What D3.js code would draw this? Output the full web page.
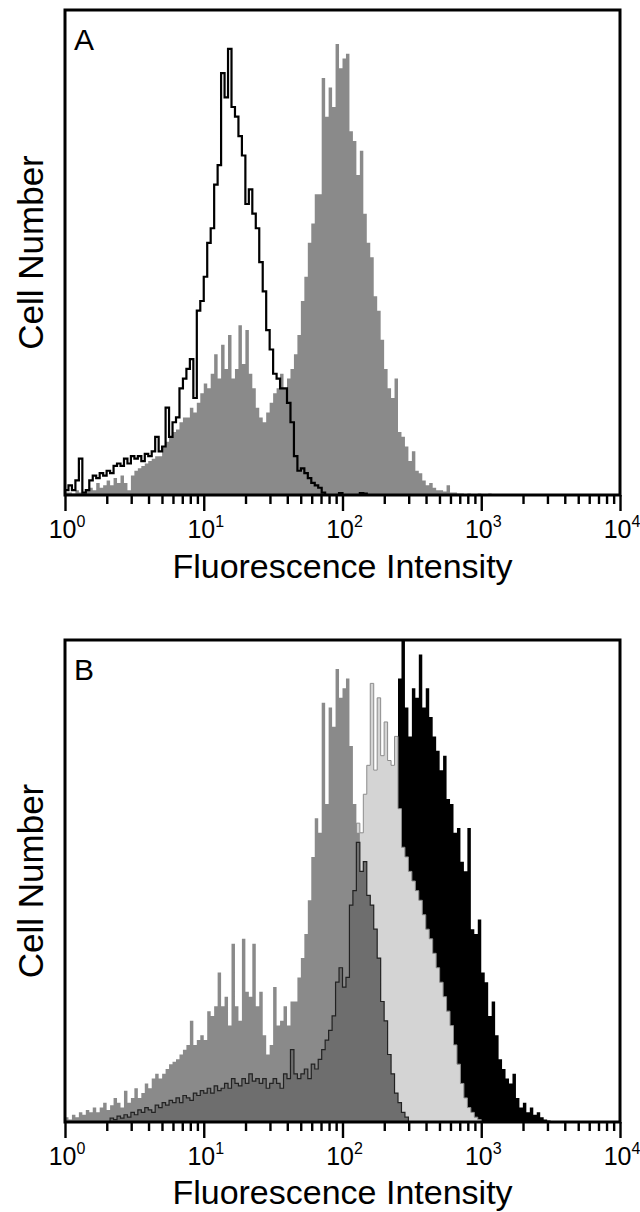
<!DOCTYPE html>
<html>
<head>
<meta charset="utf-8">
<script src="https://cdn.jsdelivr.net/npm/d3@7"></script>
<style>
  body { margin: 0; background: #fff; }
  text { font-family: "Liberation Sans", Arial, Helvetica, sans-serif; fill: #000; }
</style>
</head>
<body>
<script>
// channels are 1/40 decade wide, channel 0 starts at 10^0
const binsPerDecade = 40;
const decadeTicks = [1, 10, 100, 1000, 10000];
const decadeExp = ["0", "1", "2", "3", "4"];
const xTitle = "Fluorescence Intensity";
const yTitle = "Cell Number";

// panel A: open (black outline) histogram, from channel 0
const aOpenStart = 0;
const aOpenCounts = [1, 2, 1, 3, 7.5, 0.5, 1, 3, 4, 3.5,
  4.5, 4, 5, 4.5, 6, 6.5, 6, 7.5, 6.5, 8,
  7.5, 8, 7, 8.5, 8, 9, 12, 9, 10, 18,
  12, 15, 16, 22, 24, 26, 28, 20, 38, 40,
  45, 52, 55, 64, 68, 87, 82, 92, 80, 78,
  74, 70, 60, 63, 58, 55, 48, 42, 34, 30,
  25, 24, 22, 22, 19, 15, 8, 5, 5.5, 4.5,
  3.5, 2.5, 2, 1.5, 0.5, 0, 0, 0, 0, 0.4,
  0, 0, 0, 0, 0, 0.4, 0.3];

// panel A: filled grey histogram
const aFillStart = 0;
const aFillCounts = [0.5, 0.5, 0.3, 1, 0.5, 0.5, 1, 1.5, 1, 2.5,
  1.5, 2, 3, 2, 3.5, 2.5, 4, 2.5, 1, 4,
  5, 5.5, 6, 6.5, 7, 7.5, 8, 8, 10, 11,
  12, 13, 13.5, 15, 16, 16, 18, 17, 19, 21,
  23, 22, 25, 29, 24, 31, 26, 33, 24, 26,
  35, 27, 34, 25, 22, 18, 16, 15, 17, 19,
  21, 22, 25, 22, 24, 26, 29, 33, 40, 45,
  52, 56, 62, 62, 86, 78, 84, 80, 93, 88,
  90, 91, 75, 73, 66, 71, 58, 52, 49, 41,
  38, 32, 26, 22, 20, 24, 13, 12, 10, 7,
  9, 5, 4.5, 3, 2, 2.5, 1.5, 1, 1, 0.7,
  2, 0.5, 0.5, 0.3, 0.3, 0.2, 0.3, 0.2, 0.2, 0.3,
  0.2, 0.2, 0.3, 0.2, 0.2, 0.2];

// panel B: black filled histogram
const bBlackStart = 94;
const bBlackCounts = [40, 60, 92, 101, 86, 80, 90, 88, 97, 86,
  90, 84, 80, 77, 73, 76, 67, 66, 60, 61,
  54, 52, 61, 40, 39, 42, 31, 29, 22, 25,
  18, 13, 11, 9, 8, 10, 5, 3, 4, 2,
  3, 1.5, 2, 1, 0.5, 0.3];

// panel B: light grey histogram
const bLightStart = 83;
const bLightCounts = [40, 62, 60, 68, 74, 91, 73, 88, 76, 83,
  75, 74, 80, 65, 57, 55, 52, 50, 48, 46,
  43, 40, 38, 35, 32, 29, 26, 23, 20, 16,
  12, 8, 5, 3, 2, 1, 0.5];

// panel B: medium grey histogram
const bMidStart = 0;
const bMidCounts = [1, 0.5, 1.5, 1, 2, 1.5, 2.5, 2, 3, 2,
  3, 4, 2.5, 3.5, 5, 4, 3, 6.5, 4, 5,
  7, 5, 6, 8, 7, 9, 10, 9, 10, 11,
  12, 12.5, 13, 14, 15, 16, 21, 16, 17, 18,
  17, 23, 22, 24, 31, 24, 26, 20, 37, 24,
  21, 38, 27, 26, 37, 24, 27, 18, 14, 16,
  28, 20, 21, 24, 20, 25, 25, 30, 34, 39,
  46, 55, 63, 60, 87, 66, 86, 82, 94, 88,
  90, 92, 78, 66, 60, 50, 40, 30, 22, 15,
  10, 6, 4, 2.5, 1.5, 1, 0.5];

// panel B: dark grey histogram (dark outline)
const bDarkStart = 13;
const bDarkCounts = [0.8, 0.5, 1.2, 0.8, 1.5, 1, 2, 1.5, 2.5, 2,
  3, 2.5, 2, 3.5, 3, 4, 3.5, 4.5, 4, 5,
  4, 5.5, 5, 4.5, 6, 5.5, 6.5, 6, 7, 6,
  7.5, 6.5, 7, 8, 7, 9, 8, 7.5, 9, 8,
  10, 8.5, 9, 8, 9, 7, 8, 9, 8, 7,
  10, 9, 15, 10, 9, 10, 11, 9, 12, 11,
  13, 15, 17, 19, 22, 29, 32, 28, 30, 45,
  48, 58, 52, 54, 47, 45, 40, 34, 25, 21,
  14, 10, 6, 4, 2, 1];

const W = 640, H = 1212;
const svg = d3.select("body").append("svg")
  .attr("width", W).attr("height", H);

const x = d3.scaleLog().domain([1, 10000]).range([65, 620]);

function stepPoints(start, counts) {
  let pts = [[Math.pow(10, start / binsPerDecade), 0]];
  counts.forEach((v, k) => pts.push([Math.pow(10, (start + k) / binsPerDecade), v]));
  pts.push([Math.pow(10, (start + counts.length) / binsPerDecade), 0]);
  return pts;
}

function drawPanel(id, top, bottom, letter, titleGap, layers) {
  const y = d3.scaleLinear().domain([0, 100]).range([bottom, top]);
  const g = svg.append("g").attr("id", id);

  g.append("clipPath").attr("id", id + "Clip")
    .append("rect")
    .attr("x", x(1)).attr("y", top)
    .attr("width", x(10000) - x(1)).attr("height", bottom - top);

  const plot = g.append("g").attr("clip-path", `url(#${id}Clip)`);
  const area = d3.area().x(d => x(d[0])).y0(y(0)).y1(d => y(d[1])).curve(d3.curveStepAfter);
  const line = d3.line().x(d => x(d[0])).y(d => y(d[1])).curve(d3.curveStepAfter);

  layers.forEach(l => {
    let pts = stepPoints(l.start, l.counts);
    if (l.fill !== "none") {
      plot.append("path").attr("d", area(pts)).attr("fill", l.fill);
    }
    if (l.stroke) {
      plot.append("path").attr("d", line(pts))
        .attr("fill", "none")
        .attr("stroke", l.stroke)
        .attr("stroke-width", l.width);
    }
  });

  // axis ticks, minor then decades
  let minor = [];
  for (let e = 0; e < 4; e++) for (let m = 2; m < 10; m++) minor.push(m * Math.pow(10, e));
  const minorAxis = d3.axisBottom(x).tickValues(minor).tickSize(9).tickFormat("");
  const majorAxis = d3.axisBottom(x).tickValues(decadeTicks).tickSize(16).tickFormat("");
  [minorAxis, majorAxis].forEach(ax => {
    const a = g.append("g").attr("transform", `translate(0,${bottom})`).call(ax);
    a.select(".domain").remove();
    a.selectAll(".tick line").attr("stroke", "#000").attr("stroke-width", 2.4);
  });

  // frame
  g.append("rect")
    .attr("x", x(1)).attr("y", top)
    .attr("width", x(10000) - x(1)).attr("height", bottom - top)
    .attr("fill", "none").attr("stroke", "#000").attr("stroke-width", 3);

  // tick labels 10^n
  decadeTicks.forEach((v, i) => {
    const t = g.append("text")
      .attr("x", x(v) + 2).attr("y", bottom + 43)
      .attr("text-anchor", "middle")
      .style("font-size", "25px");
    t.append("tspan").text("10");
    t.append("tspan").attr("dy", -11).style("font-size", "16px").text(decadeExp[i]);
  });

  g.append("text")
    .attr("x", (x(1) + x(10000)) / 2).attr("y", bottom + titleGap)
    .attr("text-anchor", "middle")
    .style("font-size", "34px")
    .text(xTitle);

  g.append("text")
    .attr("transform", `translate(43,${(top + bottom) / 2}) rotate(-90)`)
    .attr("text-anchor", "middle")
    .style("font-size", "35px")
    .text(yTitle);

  g.append("text")
    .attr("x", 74).attr("y", top + 40)
    .style("font-size", "30px")
    .text(letter);
}

drawPanel("panelA", 10, 495, "A", 83, [
  {start: aFillStart, counts: aFillCounts, fill: "#8a8a8a"},
  {start: aOpenStart, counts: aOpenCounts, fill: "none", stroke: "#000", width: 2.2}
]);

drawPanel("panelB", 640, 1122, "B", 82, [
  {start: bBlackStart, counts: bBlackCounts, fill: "#000"},
  {start: bLightStart, counts: bLightCounts, fill: "#d4d4d4", stroke: "#8c8c8c", width: 1},
  {start: bMidStart, counts: bMidCounts, fill: "#8a8a8a"},
  {start: bDarkStart, counts: bDarkCounts, fill: "#6e6e6e", stroke: "#222", width: 1.2}
]);
</script>
</body>
</html>
